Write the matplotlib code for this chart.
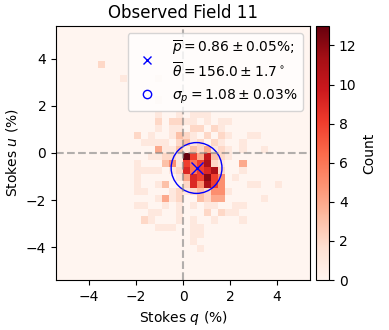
import numpy as np
import matplotlib
matplotlib.use("Agg")
import matplotlib.pyplot as plt
from matplotlib.lines import Line2D

# Binned Stokes q/u counts: column index, row index (0.3 % bins from -5.4 %), count
bin_col = [
    -12, -9, -4, -4, -4, -1, 1, 2, 3,
    -4, -2, -1, 0, 1, 3, 5, 6,
    -4, -2, -1, 1, 2, 4, 5,
    -7, -5, -2, -1, 0, 1, 3, 5, 6, 9, 10,
    -6, -5, -4, -3, -1, 0, 1, 2, 4, 5, 8,
    -4, -3, -2, -1, 0, 1, 2, 3, 4, 5, 6, 8, 11,
    -5, -4, -3, -2, -1, 0, 1, 2, 3, 4, 5, 6,
    -7, -3, -2, -1, 0, 1, 2, 3, 4, 5, 8,
    -7, -6, -5, -4, -2, -1, 0, 1, 2, 3, 4, 5, 8,
    -7, -1, 0, 1, 2, 3, 4, 5, 7,
    -7, -4, -3, 0, 1, 2, 3, 4, 5, 9, 10, 13,
    -7, -6, -2, -1, 0, 1, 2, 3, 4, 5, 6,
    -4, -3, -2, -1, 2, 3, 4, 5, 11,
    -7, -6, -3, -1, 1, 3, 4, 7, 8,
    -5, -4, -1, 3, 5, 6, 7,
    -6, -5, -1, 1, 4, 8,
    -4, -3, -2, 1, 2,
    1, 2,
    1,
    2,
]
bin_row = [
    12, 10, 10, 7, 5, 5, 5, 5, 5,
    4, 4, 4, 4, 4, 4, 4, 4,
    3, 3, 3, 3, 3, 3, 3,
    2, 2, 2, 2, 2, 2, 2, 2, 2, 2, 2,
    1, 1, 1, 1, 1, 1, 1, 1, 1, 1, 1,
    0, 0, 0, 0, 0, 0, 0, 0, 0, 0, 0, 0, 0,
    -1, -1, -1, -1, -1, -1, -1, -1, -1, -1, -1, -1,
    -2, -2, -2, -2, -2, -2, -2, -2, -2, -2, -2,
    -3, -3, -3, -3, -3, -3, -3, -3, -3, -3, -3, -3, -3,
    -4, -4, -4, -4, -4, -4, -4, -4, -4,
    -5, -5, -5, -5, -5, -5, -5, -5, -5, -5, -5, -5,
    -6, -6, -6, -6, -6, -6, -6, -6, -6, -6, -6,
    -7, -7, -7, -7, -7, -7, -7, -7, -7,
    -8, -8, -8, -8, -8, -8, -8, -8, -8,
    -9, -9, -9, -9, -9, -9, -9,
    -10, -10, -10, -10, -10, -10,
    -11, -11, -11, -11, -11,
    -12, -12,
    -13,
    -14,
]
bin_count = [
    2, 1, 1, 1, 1, 1, 1, 1, 1,
    2, 2, 2, 1, 1, 1, 1, 1,
    1, 1, 1, 2, 2, 2, 1,
    2, 1, 1, 3, 2, 1, 2, 2, 1, 1, 1,
    1, 1, 1, 1, 2, 3, 1, 2, 2, 1, 1,
    4, 1, 1, 3, 1, 3, 2, 4, 1, 2, 1, 1, 1,
    1, 1, 2, 2, 1, 13, 8, 4, 10, 3, 2, 1,
    1, 3, 5, 1, 8, 6, 8, 11, 2, 1, 4,
    1, 1, 1, 1, 1, 2, 9, 6, 8, 9, 11, 2, 1,
    1, 1, 4, 9, 8, 12, 8, 5, 1,
    1, 1, 3, 2, 9, 5, 11, 8, 5, 1, 1, 1,
    1, 1, 1, 2, 1, 2, 3, 2, 5, 5, 1,
    1, 4, 1, 2, 3, 2, 4, 4, 1,
    1, 1, 1, 1, 1, 1, 1, 1, 1,
    1, 1, 1, 2, 2, 1, 1,
    2, 1, 1, 1, 1, 1,
    1, 1, 1, 1, 1,
    1, 1,
    1,
    1,
]

p_mean = 0.86
p_err = 0.05
theta_mean = 156.0
theta_err = 1.7
sigma_p = 1.08
sigma_p_err = 0.03

bin_width = 0.3
lim = 5.4
n_bins = 36

q = np.array(bin_col) * bin_width + bin_width / 2
u = np.array(bin_row) * bin_width + bin_width / 2

q_mean = p_mean * np.cos(np.deg2rad(2 * theta_mean))
u_mean = p_mean * np.sin(np.deg2rad(2 * theta_mean))

fig = plt.figure(figsize=(3.89, 3.30), dpi=100)
ax = fig.add_axes([0.144, 0.1515, 0.653, 0.770])
cax = fig.add_axes([0.812, 0.1515, 0.034, 0.770])

h = ax.hist2d(q, u, bins=n_bins, range=[[-lim, lim], [-lim, lim]],
              weights=bin_count, cmap="Reds")
cb = fig.colorbar(h[3], cax=cax)
cb.set_label("Count")

ax.axvline(0, color="gray", ls="--", alpha=0.6, lw=1.5)
ax.axhline(0, color="gray", ls="--", alpha=0.6, lw=1.5)

ax.plot(q_mean, u_mean, "x", color="blue", ms=8)
ax.add_patch(plt.Circle((q_mean, u_mean), sigma_p, fill=False, color="blue", lw=1))

handles = [
    Line2D([], [], ls="none", marker="x", color="blue"),
    Line2D([], [], ls="none", marker="o", mfc="none", color="blue"),
]
labels = [
    rf"$\overline{{p}} = {p_mean:.2f} \pm {p_err:.2f}\%$;" "\n"
    rf"$\overline{{\theta}} = {theta_mean:.1f} \pm {theta_err:.1f}^\circ$",
    rf"$\sigma_p = {sigma_p:.2f} \pm {sigma_p_err:.2f}\%$",
]
ax.legend(handles, labels, loc="upper right")

ax.set_xlim(-lim, lim)
ax.set_ylim(-lim, lim)
ax.set_xticks([-4, -2, 0, 2, 4])
ax.set_yticks([-4, -2, 0, 2, 4])
ax.set_xlabel("Stokes $q$ (%)")
ax.set_ylabel("Stokes $u$ (%)")
ax.set_title("Observed Field 11")

fig.savefig("out.png", dpi=100)
